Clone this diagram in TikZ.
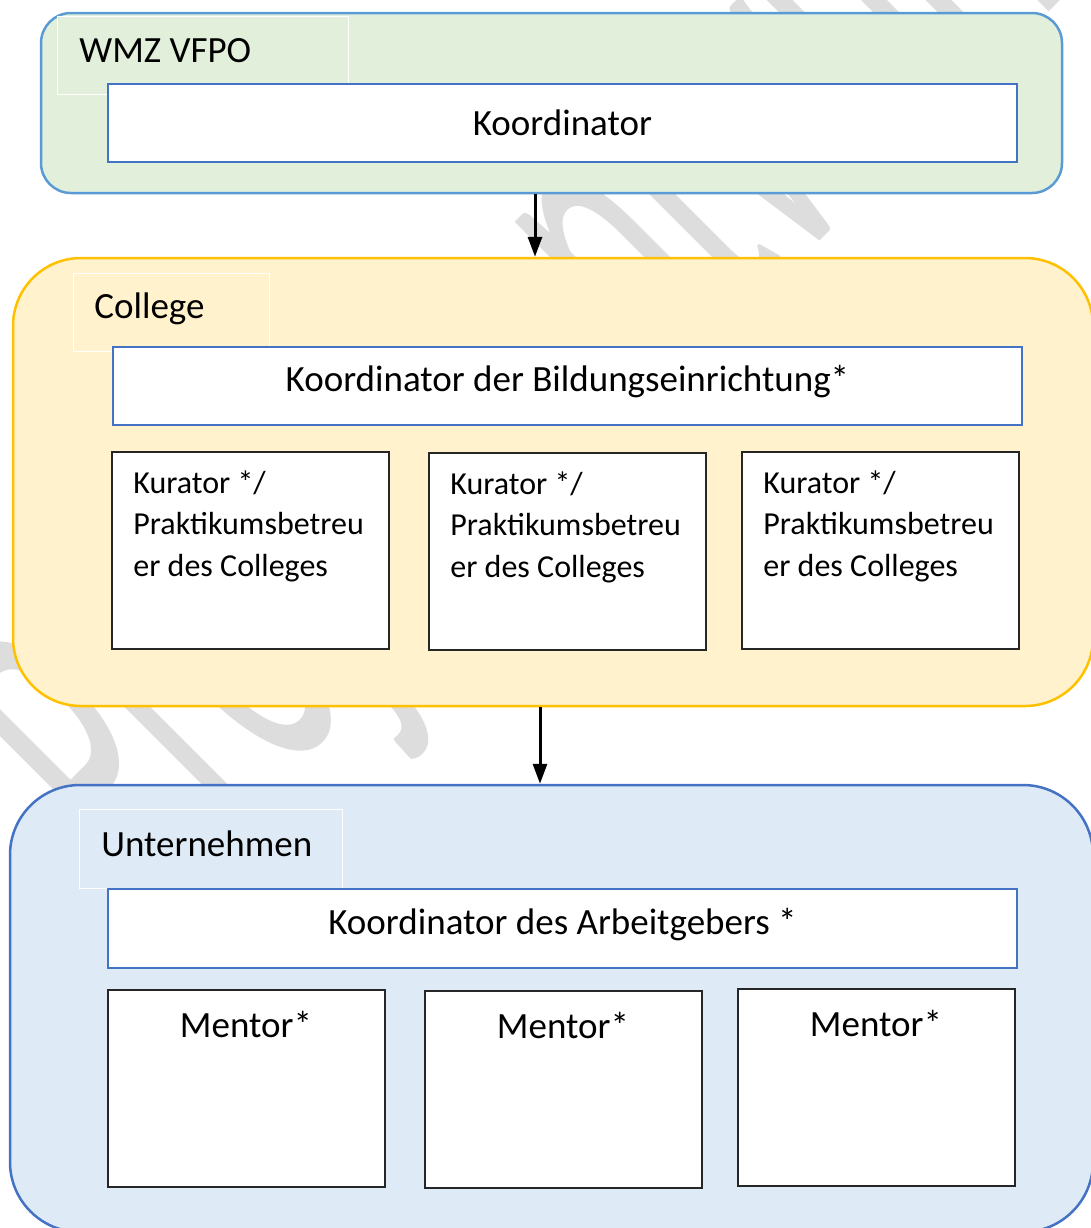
\documentclass[tikz,border=0pt]{standalone}
\usepackage{fontspec}
\setmainfont{Carlito}
\usepackage{tikz}
\usetikzlibrary{arrows.meta, fit, calc, positioning}
\definecolor{wmzgreen}{HTML}{E2EFDA}
\definecolor{wmzline}{HTML}{5B9BD5}
\definecolor{collyellow}{HTML}{FFF2CC}
\definecolor{collline}{HTML}{FFC000}
\definecolor{firmblue}{HTML}{DEEBF7}
\definecolor{boxline}{HTML}{4472C4}
\definecolor{wmgray}{HTML}{DDDDDD}

\tikzset{
  outerbox/.style={draw, rounded corners=#1, line width=1.25pt},
  titlebox/.style={draw=white, line width=0.5pt},
  innerbox/.style={draw=boxline, fill=white, line width=1pt},
  subbox/.style={draw=black!85, fill=white, line width=0.7pt},
  kurtext/.style={align=left, font=\fontsize{16}{20.75}\selectfont},
  flow/.style={-{Triangle[length=10pt,width=7pt]}, line width=1.5pt},
  wmark/.style={text=wmgray, font=\fontsize{107.5}{110}\selectfont}
}

\begin{document}
\begin{tikzpicture}[x=0.5pt, y=-0.5pt, every node/.style={inner sep=0pt, font=\fontsize{18.5}{22}\selectfont}]
  \useasboundingbox (0,0) rectangle (1091,1228);
  \clip (0,0) rectangle (1091,1228);
  % watermark behind everything
  \node[wmark, anchor=base west, rotate=45] (wm) at (151,910) {\scalebox{1}[2.23]{Projektentwurf}};

  % WMZ VFPO
  \node[outerbox=15pt, fill=wmzgreen, draw=wmzline, fit={(41,13) (1062,193)}] (wmz) {};
  \node[titlebox, fit={(57,16) (348,94)}] (wmzhead) {};
  \node[anchor=base west] (wmzlbl) at (79,62) {WMZ VFPO};
  \node[innerbox, fit={(108,84) (1017,162)}] (koord) {};
  \node (koordlbl) at (koord.center) {Koordinator};

  % College
  \node[outerbox=34pt, fill=collyellow, draw=collline, fit={(13,258) (1093,706)}] (college) {};
  \node[titlebox, fit={(73,273) (269,351)}] (collhead) {};
  \node[anchor=base west] (colllbl) at (94,318) {College};
  \node[innerbox, fit={(113,347) (1022,425)}] (collkoord) {};
  \node[anchor=base] (collkoordlbl) at ($(collkoord.center)+(0,5)$) {Koordinator der Bildungseinrichtung*};
  \foreach \i/\x/\y in {1/112/452, 2/429/453, 3/742/452} {
    \node[subbox, fit={(\x,\y) (\x+277,\y+197)}] (kur\i) {};
    \node[kurtext, anchor=base west] (kurlbl\i) at (\x+21,\y+124) {Kurator */\\Praktikumsbetreu\\er des Colleges};
  }

  % Unternehmen
  \node[outerbox=35pt, fill=firmblue, draw=boxline, fit={(10,785) (1093,1232)}] (firm) {};
  \node[titlebox, fit={(79,809) (342,888)}] (firmhead) {};
  \node[anchor=base west] (firmlbl) at (101,856) {Unternehmen};
  \node[innerbox, fit={(108,889) (1017,968)}] (firmkoord) {};
  \node[anchor=base] (firmkoordlbl) at ($(firmkoord.center)+(0,5.5)$) {Koordinator des Arbeitgebers *};
  \foreach \i/\x/\y in {1/108/990, 2/425/991, 3/738/989} {
    \node[subbox, fit={(\x,\y) (\x+277,\y+197)}] (ment\i) {};
    \node[anchor=base] (mentlbl\i) at (\x+138,\y+47) {Mentor*};
  }

  % arrows
  \draw[flow] (wmz.south -| 535,0) -- (college.north -| 535,0);
  \draw[flow] (college.south -| 540,0) -- (firm.north -| 540,0);
\end{tikzpicture}
\end{document}
